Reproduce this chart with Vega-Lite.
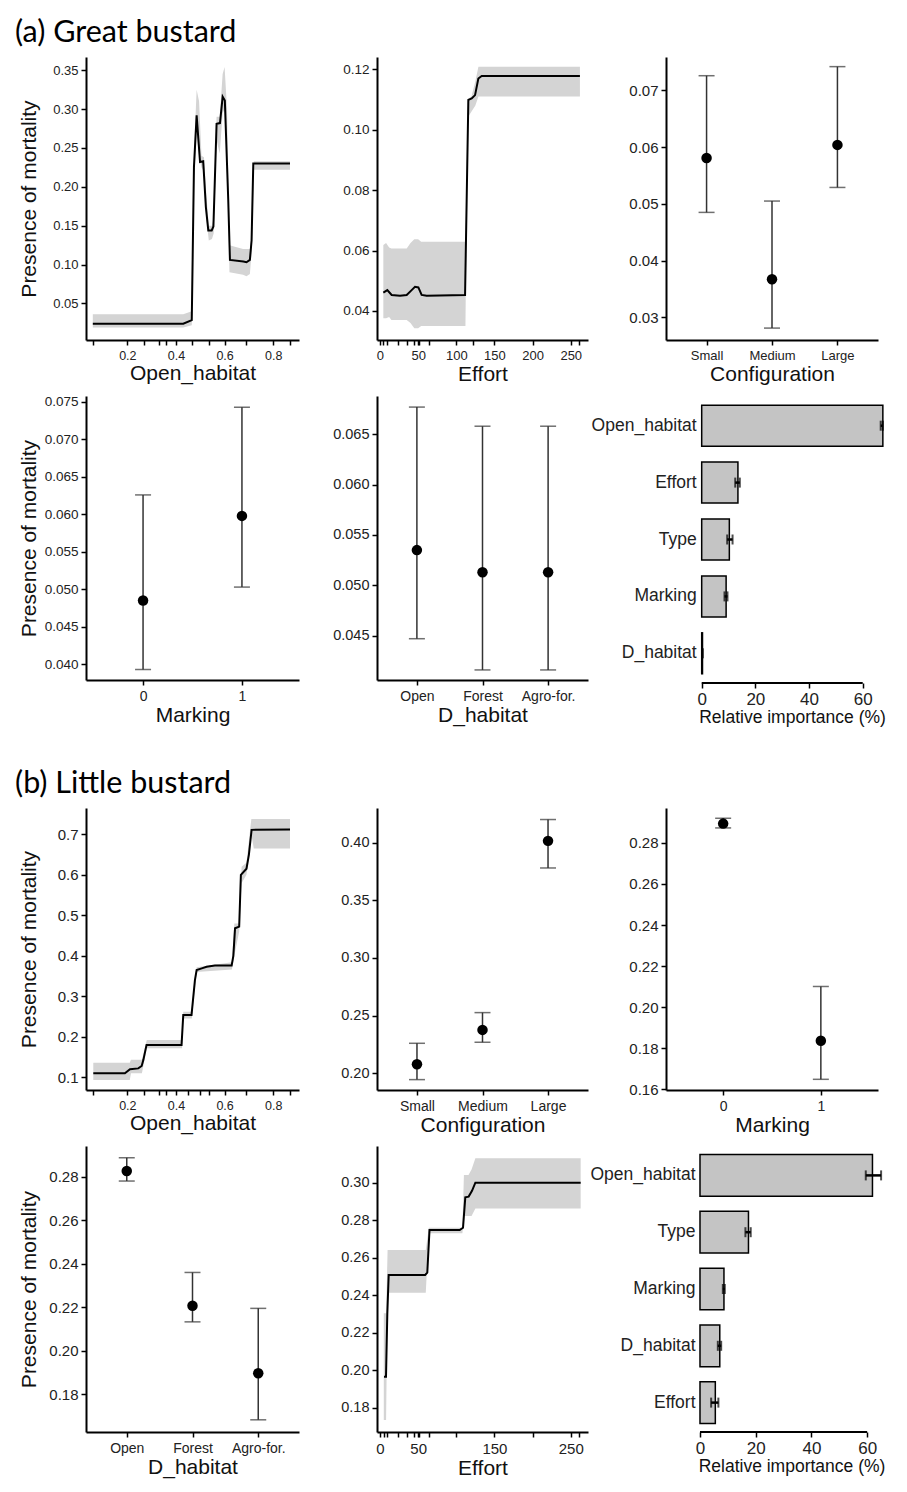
{
  "$schema": "https://vega.github.io/schema/vega-lite/v6.json",
  "background": "white",
  "padding": {"left": 15, "top": 17, "right": 10, "bottom": 5},
  "config": {
    "view": {"stroke": null},
    "font": "Liberation Sans",
    "title": {"font": "Lato", "fontSize": 30.5, "fontWeight": "normal", "color": "#000"},
    "axis": {"domainColor": "#000", "domainWidth": 2, "tickColor": "#000", "tickWidth": 1.5, "tickSize": 5, "labelFont": "Liberation Sans", "labelFontSize": 14, "labelColor": "#222", "labelPadding": 3, "titleFont": "Liberation Sans", "titleFontSize": 21, "titleFontWeight": "normal", "titleColor": "#111", "grid": false},
    "axisX": {"labelAngle": 0, "labelPadding": 4, "titlePadding": 1},
    "axisY": {"titlePadding": 3}
  },
  "datasets": {
    "a_open_line": [
      {"x": 0.058, "y": 0.024}, {"x": 0.43, "y": 0.024}, {"x": 0.465, "y": 0.0286}, {"x": 0.474, "y": 0.2257}, {"x": 0.485, "y": 0.292}, {"x": 0.499, "y": 0.232}, {"x": 0.512, "y": 0.233}, {"x": 0.523, "y": 0.174}, {"x": 0.533, "y": 0.144}, {"x": 0.547, "y": 0.144}, {"x": 0.554, "y": 0.149}, {"x": 0.567, "y": 0.281}, {"x": 0.581, "y": 0.282}, {"x": 0.592, "y": 0.316}, {"x": 0.601, "y": 0.311}, {"x": 0.615, "y": 0.183}, {"x": 0.622, "y": 0.106}, {"x": 0.677, "y": 0.104}, {"x": 0.69, "y": 0.103}, {"x": 0.704, "y": 0.106}, {"x": 0.711, "y": 0.131}, {"x": 0.718, "y": 0.23}, {"x": 0.869, "y": 0.23}
    ],
    "a_open_band": [
      {"x": 0.058, "lo": 0.019, "hi": 0.036}, {"x": 0.43, "lo": 0.019, "hi": 0.036}, {"x": 0.465, "lo": 0.022, "hi": 0.04}, {"x": 0.475, "lo": 0.21, "hi": 0.25}, {"x": 0.485, "lo": 0.27, "hi": 0.325}, {"x": 0.495, "lo": 0.24, "hi": 0.31}, {"x": 0.505, "lo": 0.225, "hi": 0.24}, {"x": 0.515, "lo": 0.22, "hi": 0.238}, {"x": 0.525, "lo": 0.16, "hi": 0.19}, {"x": 0.535, "lo": 0.131, "hi": 0.15}, {"x": 0.548, "lo": 0.133, "hi": 0.15}, {"x": 0.555, "lo": 0.14, "hi": 0.16}, {"x": 0.567, "lo": 0.26, "hi": 0.29}, {"x": 0.58, "lo": 0.243, "hi": 0.29}, {"x": 0.592, "lo": 0.295, "hi": 0.345}, {"x": 0.6, "lo": 0.3, "hi": 0.354}, {"x": 0.61, "lo": 0.26, "hi": 0.3}, {"x": 0.62, "lo": 0.09, "hi": 0.125}, {"x": 0.676, "lo": 0.087, "hi": 0.12}, {"x": 0.69, "lo": 0.085, "hi": 0.12}, {"x": 0.704, "lo": 0.088, "hi": 0.12}, {"x": 0.712, "lo": 0.12, "hi": 0.14}, {"x": 0.72, "lo": 0.222, "hi": 0.233}, {"x": 0.869, "lo": 0.222, "hi": 0.233}
    ],
    "a_eff_line": [
      {"x": 4.4, "y": 0.0461}, {"x": 9.6, "y": 0.0469}, {"x": 15.3, "y": 0.0453}, {"x": 26.2, "y": 0.045}, {"x": 35, "y": 0.0453}, {"x": 41.5, "y": 0.0469}, {"x": 45.9, "y": 0.048}, {"x": 50.3, "y": 0.0478}, {"x": 54.6, "y": 0.0453}, {"x": 61.2, "y": 0.045}, {"x": 111.5, "y": 0.0453}, {"x": 113.6, "y": 0.0767}, {"x": 115.8, "y": 0.1098}, {"x": 120.2, "y": 0.1103}, {"x": 124.6, "y": 0.1114}, {"x": 128.9, "y": 0.1169}, {"x": 133.3, "y": 0.1177}, {"x": 262, "y": 0.1177}
    ],
    "a_eff_band": [
      {"x": 4.4, "lo": 0.0376, "hi": 0.0618}, {"x": 8, "lo": 0.0376, "hi": 0.0625}, {"x": 12, "lo": 0.038, "hi": 0.061}, {"x": 15, "lo": 0.037, "hi": 0.0607}, {"x": 35, "lo": 0.037, "hi": 0.0607}, {"x": 40, "lo": 0.036, "hi": 0.0625}, {"x": 45, "lo": 0.0343, "hi": 0.0637}, {"x": 50, "lo": 0.0343, "hi": 0.0637}, {"x": 54, "lo": 0.035, "hi": 0.0629}, {"x": 112, "lo": 0.035, "hi": 0.0629}, {"x": 113, "lo": 0.06, "hi": 0.075}, {"x": 115, "lo": 0.104, "hi": 0.11}, {"x": 120, "lo": 0.106, "hi": 0.111}, {"x": 125, "lo": 0.108, "hi": 0.116}, {"x": 129, "lo": 0.1109, "hi": 0.1208}, {"x": 262, "lo": 0.1109, "hi": 0.1208}
    ],
    "a_conf": [
      {"cat": "Small", "y": 0.0581, "lo": 0.0485, "hi": 0.0726},
      {"cat": "Medium", "y": 0.0367, "lo": 0.0281, "hi": 0.0505},
      {"cat": "Large", "y": 0.0604, "lo": 0.0529, "hi": 0.0742}
    ],
    "a_mark": [
      {"cat": "0", "y": 0.0485, "lo": 0.0393, "hi": 0.0626},
      {"cat": "1", "y": 0.0598, "lo": 0.0503, "hi": 0.0743}
    ],
    "a_dhab": [
      {"cat": "Open", "y": 0.0535, "lo": 0.0447, "hi": 0.0677},
      {"cat": "Forest", "y": 0.0513, "lo": 0.0416, "hi": 0.0658},
      {"cat": "Agro-for.", "y": 0.0513, "lo": 0.0416, "hi": 0.0658}
    ],
    "a_imp": [
      {"var": "Open_habitat", "imp": 67.5, "lo": 66.7, "hi": 67.5},
      {"var": "Effort", "imp": 13.5, "lo": 12.5, "hi": 14.2},
      {"var": "Type", "imp": 10.3, "lo": 9.5, "hi": 11.5},
      {"var": "Marking", "imp": 9.1, "lo": 8.5, "hi": 9.6},
      {"var": "D_habitat", "imp": 0.3, "lo": 0.2, "hi": 0.4}
    ],
    "b_open_line": [
      {"x": 0.06, "y": 0.11}, {"x": 0.19, "y": 0.11}, {"x": 0.211, "y": 0.12}, {"x": 0.245, "y": 0.122}, {"x": 0.259, "y": 0.128}, {"x": 0.266, "y": 0.143}, {"x": 0.279, "y": 0.18}, {"x": 0.423, "y": 0.18}, {"x": 0.43, "y": 0.254}, {"x": 0.464, "y": 0.254}, {"x": 0.478, "y": 0.34}, {"x": 0.485, "y": 0.365}, {"x": 0.506, "y": 0.369}, {"x": 0.526, "y": 0.373}, {"x": 0.56, "y": 0.376}, {"x": 0.629, "y": 0.376}, {"x": 0.636, "y": 0.4}, {"x": 0.643, "y": 0.468}, {"x": 0.66, "y": 0.472}, {"x": 0.667, "y": 0.6}, {"x": 0.69, "y": 0.615}, {"x": 0.7, "y": 0.65}, {"x": 0.711, "y": 0.711}, {"x": 0.869, "y": 0.712}
    ],
    "b_open_band": [
      {"x": 0.06, "lo": 0.093, "hi": 0.136}, {"x": 0.21, "lo": 0.093, "hi": 0.136}, {"x": 0.215, "lo": 0.11, "hi": 0.143}, {"x": 0.26, "lo": 0.11, "hi": 0.143}, {"x": 0.28, "lo": 0.172, "hi": 0.192}, {"x": 0.425, "lo": 0.172, "hi": 0.192}, {"x": 0.43, "lo": 0.245, "hi": 0.262}, {"x": 0.465, "lo": 0.245, "hi": 0.262}, {"x": 0.485, "lo": 0.36, "hi": 0.372}, {"x": 0.63, "lo": 0.366, "hi": 0.384}, {"x": 0.64, "lo": 0.4, "hi": 0.48}, {"x": 0.66, "lo": 0.46, "hi": 0.48}, {"x": 0.67, "lo": 0.58, "hi": 0.62}, {"x": 0.69, "lo": 0.6, "hi": 0.63}, {"x": 0.71, "lo": 0.7, "hi": 0.738}, {"x": 0.72, "lo": 0.665, "hi": 0.738}, {"x": 0.869, "lo": 0.665, "hi": 0.738}
    ],
    "b_conf": [
      {"cat": "Small", "y": 0.2078, "lo": 0.1945, "hi": 0.226},
      {"cat": "Medium", "y": 0.2376, "lo": 0.2269, "hi": 0.2526},
      {"cat": "Large", "y": 0.4015, "lo": 0.378, "hi": 0.42}
    ],
    "b_mark": [
      {"cat": "0", "y": 0.2894, "lo": 0.2873, "hi": 0.292},
      {"cat": "1", "y": 0.1837, "lo": 0.1649, "hi": 0.2101}
    ],
    "b_dhab": [
      {"cat": "Open", "y": 0.2826, "lo": 0.278, "hi": 0.2887},
      {"cat": "Forest", "y": 0.2207, "lo": 0.2133, "hi": 0.236},
      {"cat": "Agro-for.", "y": 0.1897, "lo": 0.1683, "hi": 0.2195}
    ],
    "b_eff_line": [
      {"x": 5.3, "y": 0.1965}, {"x": 7.9, "y": 0.1965}, {"x": 9.6, "y": 0.23}, {"x": 11.4, "y": 0.2508}, {"x": 59.2, "y": 0.2508}, {"x": 62, "y": 0.252}, {"x": 64.9, "y": 0.2748}, {"x": 104.4, "y": 0.2748}, {"x": 108.8, "y": 0.276}, {"x": 111.8, "y": 0.2922}, {"x": 116.2, "y": 0.2926}, {"x": 120.6, "y": 0.2957}, {"x": 125, "y": 0.3}, {"x": 263, "y": 0.3}
    ],
    "b_eff_band": [
      {"x": 5, "lo": 0.1734, "hi": 0.2303}, {"x": 8, "lo": 0.1734, "hi": 0.2303}, {"x": 10, "lo": 0.2413, "hi": 0.2641}, {"x": 60, "lo": 0.2413, "hi": 0.2641}, {"x": 64, "lo": 0.273, "hi": 0.276}, {"x": 108, "lo": 0.273, "hi": 0.276}, {"x": 110, "lo": 0.2822, "hi": 0.3041}, {"x": 116, "lo": 0.2822, "hi": 0.3041}, {"x": 120, "lo": 0.2822, "hi": 0.307}, {"x": 125, "lo": 0.2863, "hi": 0.313}, {"x": 263, "lo": 0.2863, "hi": 0.313}
    ],
    "b_imp": [
      {"var": "Open_habitat", "imp": 61.9, "lo": 59.5, "hi": 65.0},
      {"var": "Type", "imp": 17.4, "lo": 16.3, "hi": 18.2},
      {"var": "Marking", "imp": 8.6, "lo": 8.2, "hi": 8.9},
      {"var": "D_habitat", "imp": 7.1, "lo": 6.4, "hi": 7.6},
      {"var": "Effort", "imp": 5.5, "lo": 4.0, "hi": 6.6}
    ],
    "axisline": [{"a": 0, "b": 60, "v": 0}]
  },
  "columns": 3,
  "bounds": "flush",
  "spacing": {"row": 56, "column": 78},
  "concat": [
    {
      "width": 213, "height": 283,
      "title": {"text": "(a) Great bustard", "anchor": "start", "frame": "group", "dx": -71, "offset": 9},
      "encoding": {"x": {"field": "x", "type": "quantitative", "title": "Open_habitat", "scale": {"domain": [0.03, 0.906], "nice": false, "zero": false}, "axis": {"values": [0.06, 0.2, 0.27, 0.33, 0.36, 0.4, 0.466, 0.535, 0.6, 0.69, 0.8, 0.87], "labelExpr": "abs(datum.value*5 - round(datum.value*5)) < 0.000001 ? format(datum.value, '.1f') : ''", "labelFontSize": 12.5}}},
      "layer": [
        {"data": {"name": "a_open_band"}, "mark": {"type": "area", "color": "#d4d4d4"}, "encoding": {"y": {"field": "lo", "type": "quantitative", "title": "Presence of mortality", "scale": {"domain": [0.003, 0.367], "nice": false, "zero": false}, "axis": {"values": [0.05, 0.1, 0.15, 0.2, 0.25, 0.3, 0.35], "format": ".2f", "minExtent": 44, "labelFontSize": 13}}, "y2": {"field": "hi"}}},
        {"data": {"name": "a_open_line"}, "mark": {"type": "line", "color": "#000", "strokeWidth": 2}, "encoding": {"y": {"field": "y", "type": "quantitative", "title": "Presence of mortality"}}}
      ]
    },
    {
      "width": 211, "height": 283,
      "encoding": {"x": {"field": "x", "type": "quantitative", "title": "Effort", "scale": {"domain": [-3.9, 272.6], "nice": false, "zero": false}, "axis": {"values": [0, 4.4, 9.6, 23, 35, 44.6, 50, 51.6, 64.7, 100, 122, 150, 200, 250, 261], "labelExpr": "datum.value % 50 == 0 ? format(datum.value, 'd') : ''", "labelFontSize": 13}}},
      "layer": [
        {"data": {"name": "a_eff_band"}, "mark": {"type": "area", "color": "#d4d4d4"}, "encoding": {"y": {"field": "lo", "type": "quantitative", "title": null, "scale": {"domain": [0.0304, 0.124], "nice": false, "zero": false}, "axis": {"values": [0.04, 0.06, 0.08, 0.1, 0.12], "format": ".2f", "labelFontSize": 13.5}}, "y2": {"field": "hi"}}},
        {"data": {"name": "a_eff_line"}, "mark": {"type": "line", "color": "#000", "strokeWidth": 2}, "encoding": {"y": {"field": "y", "type": "quantitative", "title": null}}}
      ]
    },
    {
      "width": 212, "height": 283,
      "data": {"name": "a_conf"},
      "encoding": {"x": {"field": "cat", "type": "nominal", "sort": null, "title": "Configuration", "scale": {"type": "point", "padding": 0.62}, "axis": {"labelFontSize": 13}}},
      "layer": [
        {"mark": {"type": "rule", "color": "#333", "strokeWidth": 1.5}, "encoding": {"y": {"field": "lo", "type": "quantitative", "title": null, "scale": {"domain": [0.026, 0.0759], "nice": false, "zero": false}, "axis": {"values": [0.03, 0.04, 0.05, 0.06, 0.07], "format": ".2f", "labelFontSize": 15}}, "y2": {"field": "hi"}}},
        {"mark": {"type": "tick", "color": "#333", "thickness": 1.5, "size": 16}, "encoding": {"y": {"field": "lo", "type": "quantitative", "title": null}}},
        {"mark": {"type": "tick", "color": "#333", "thickness": 1.5, "size": 16}, "encoding": {"y": {"field": "hi", "type": "quantitative", "title": null}}},
        {"mark": {"type": "point", "filled": true, "color": "#000", "opacity": 1, "size": 110}, "encoding": {"y": {"field": "y", "type": "quantitative", "title": null}}}
      ]
    },
    {
      "width": 213, "height": 284,
      "data": {"name": "a_mark"},
      "encoding": {"x": {"field": "cat", "type": "nominal", "sort": null, "title": "Marking", "scale": {"type": "point", "padding": 0.577}, "axis": {"labelFontSize": 14}}},
      "layer": [
        {"mark": {"type": "rule", "color": "#333", "strokeWidth": 1.5}, "encoding": {"y": {"field": "lo", "type": "quantitative", "title": "Presence of mortality", "scale": {"domain": [0.0379, 0.0758], "nice": false, "zero": false}, "axis": {"values": [0.04, 0.045, 0.05, 0.055, 0.06, 0.065, 0.07, 0.075], "format": ".3f", "minExtent": 44, "labelFontSize": 13.5}}, "y2": {"field": "hi"}}},
        {"mark": {"type": "tick", "color": "#333", "thickness": 1.5, "size": 16}, "encoding": {"y": {"field": "lo", "type": "quantitative", "title": "Presence of mortality"}}},
        {"mark": {"type": "tick", "color": "#333", "thickness": 1.5, "size": 16}, "encoding": {"y": {"field": "hi", "type": "quantitative", "title": "Presence of mortality"}}},
        {"mark": {"type": "point", "filled": true, "color": "#000", "opacity": 1, "size": 110}, "encoding": {"y": {"field": "y", "type": "quantitative", "title": "Presence of mortality"}}}
      ]
    },
    {
      "width": 211, "height": 284,
      "data": {"name": "a_dhab"},
      "encoding": {"x": {"field": "cat", "type": "nominal", "sort": null, "title": "D_habitat", "scale": {"type": "point", "padding": 0.608}, "axis": {"labelFontSize": 14}}},
      "layer": [
        {"mark": {"type": "rule", "color": "#333", "strokeWidth": 1.5}, "encoding": {"y": {"field": "lo", "type": "quantitative", "title": null, "scale": {"domain": [0.0406, 0.0688], "nice": false, "zero": false}, "axis": {"values": [0.045, 0.05, 0.055, 0.06, 0.065], "format": ".3f", "labelFontSize": 14.5}}, "y2": {"field": "hi"}}},
        {"mark": {"type": "tick", "color": "#333", "thickness": 1.5, "size": 16}, "encoding": {"y": {"field": "lo", "type": "quantitative", "title": null}}},
        {"mark": {"type": "tick", "color": "#333", "thickness": 1.5, "size": 16}, "encoding": {"y": {"field": "hi", "type": "quantitative", "title": null}}},
        {"mark": {"type": "point", "filled": true, "color": "#000", "opacity": 1, "size": 110}, "encoding": {"y": {"field": "y", "type": "quantitative", "title": null}}}
      ]
    },
    {
      "width": 219, "height": 287,
      "layer": [
        {
          "data": {"name": "a_imp"},
          "encoding": {
            "y": {"field": "var", "type": "nominal", "sort": null, "title": null, "scale": {"paddingInner": 0.28, "paddingOuter": 0.162}, "axis": {"domain": false, "ticks": false, "offset": -35.7, "labelPadding": 5.5, "labelFontSize": 17.5, "labelColor": "#222"}}
          },
          "layer": [
            {"mark": {"type": "bar", "fill": "#c4c4c4", "stroke": "#000", "strokeWidth": 1.5},
             "encoding": {
               "x": {"field": "imp", "type": "quantitative", "title": "Relative importance (%)", "scale": {"domain": [-13.3, 68.3], "nice": false, "zero": false}, "axis": {"values": [0, 10, 20, 30, 40, 50, 60], "labelExpr": "datum.value % 20 == 0 ? format(datum.value, 'd') : ''", "domain": false, "labelFontSize": 17, "titleFontSize": 17.5, "titlePadding": 1, "labelPadding": 3, "titleX": 126, "titleAlign": "center"}},
               "x2": {"datum": 0}
             }},
            {"mark": {"type": "rule", "color": "#000", "strokeWidth": 2.5}, "encoding": {"x": {"field": "lo", "type": "quantitative"}, "x2": {"field": "hi"}}},
            {"mark": {"type": "tick", "color": "#000", "thickness": 2, "size": 10}, "encoding": {"x": {"field": "lo", "type": "quantitative"}}},
            {"mark": {"type": "tick", "color": "#000", "thickness": 2, "size": 10}, "encoding": {"x": {"field": "hi", "type": "quantitative"}}}
          ]
        },
        {"data": {"name": "axisline"}, "mark": {"type": "rule", "color": "#000", "strokeWidth": 2}, "encoding": {"x": {"field": "a", "type": "quantitative"}, "x2": {"field": "b"}, "y": {"field": "v", "type": "quantitative", "scale": {"domain": [0, 1]}, "axis": null}}}
      ],
      "resolve": {"scale": {"y": "independent"}, "axis": {"y": "independent"}}
    },
    {"width": 10, "height": 13, "data": {"values": []}, "mark": "point"},
    {"width": 10, "height": 13, "data": {"values": []}, "mark": "point"},
    {"width": 10, "height": 13, "data": {"values": []}, "mark": "point"},
    {
      "width": 213, "height": 282,
      "title": {"text": "(b) Little bustard", "anchor": "start", "frame": "group", "dx": -71, "offset": 9},
      "encoding": {"x": {"field": "x", "type": "quantitative", "title": "Open_habitat", "scale": {"domain": [0.03, 0.906], "nice": false, "zero": false}, "axis": {"values": [0.06, 0.2, 0.27, 0.33, 0.36, 0.4, 0.45, 0.5, 0.535, 0.6, 0.69, 0.8, 0.87], "labelExpr": "abs(datum.value*5 - round(datum.value*5)) < 0.000001 ? format(datum.value, '.1f') : ''", "labelFontSize": 12.5}}},
      "layer": [
        {"data": {"name": "b_open_band"}, "mark": {"type": "area", "color": "#d4d4d4"}, "encoding": {"y": {"field": "lo", "type": "quantitative", "title": "Presence of mortality", "scale": {"domain": [0.0686, 0.765], "nice": false, "zero": false}, "axis": {"values": [0.1, 0.2, 0.3, 0.4, 0.5, 0.6, 0.7], "format": ".1f", "minExtent": 44, "labelFontSize": 15}}, "y2": {"field": "hi"}}},
        {"data": {"name": "b_open_line"}, "mark": {"type": "line", "color": "#000", "strokeWidth": 2}, "encoding": {"y": {"field": "y", "type": "quantitative", "title": "Presence of mortality"}}}
      ]
    },
    {
      "width": 211, "height": 282,
      "data": {"name": "b_conf"},
      "encoding": {"x": {"field": "cat", "type": "nominal", "sort": null, "title": "Configuration", "scale": {"type": "point", "padding": 0.61}, "axis": {"labelFontSize": 14}}},
      "layer": [
        {"mark": {"type": "rule", "color": "#333", "strokeWidth": 1.5}, "encoding": {"y": {"field": "lo", "type": "quantitative", "title": null, "scale": {"domain": [0.1855, 0.43], "nice": false, "zero": false}, "axis": {"values": [0.2, 0.25, 0.3, 0.35, 0.4], "format": ".2f", "labelFontSize": 14.5}}, "y2": {"field": "hi"}}},
        {"mark": {"type": "tick", "color": "#333", "thickness": 1.5, "size": 16}, "encoding": {"y": {"field": "lo", "type": "quantitative", "title": null}}},
        {"mark": {"type": "tick", "color": "#333", "thickness": 1.5, "size": 16}, "encoding": {"y": {"field": "hi", "type": "quantitative", "title": null}}},
        {"mark": {"type": "point", "filled": true, "color": "#000", "opacity": 1, "size": 110}, "encoding": {"y": {"field": "y", "type": "quantitative", "title": null}}}
      ]
    },
    {
      "width": 212, "height": 282,
      "data": {"name": "b_mark"},
      "encoding": {"x": {"field": "cat", "type": "nominal", "sort": null, "title": "Marking", "scale": {"type": "point", "padding": 0.585}, "axis": {"labelFontSize": 14}}},
      "layer": [
        {"mark": {"type": "rule", "color": "#333", "strokeWidth": 1.5}, "encoding": {"y": {"field": "lo", "type": "quantitative", "title": null, "scale": {"domain": [0.1597, 0.297], "nice": false, "zero": false}, "axis": {"values": [0.16, 0.18, 0.2, 0.22, 0.24, 0.26, 0.28], "format": ".2f", "labelFontSize": 15}}, "y2": {"field": "hi"}}},
        {"mark": {"type": "tick", "color": "#333", "thickness": 1.5, "size": 16}, "encoding": {"y": {"field": "lo", "type": "quantitative", "title": null}}},
        {"mark": {"type": "tick", "color": "#333", "thickness": 1.5, "size": 16}, "encoding": {"y": {"field": "hi", "type": "quantitative", "title": null}}},
        {"mark": {"type": "point", "filled": true, "color": "#000", "opacity": 1, "size": 110}, "encoding": {"y": {"field": "y", "type": "quantitative", "title": null}}}
      ]
    },
    {
      "width": 213, "height": 286,
      "data": {"name": "b_dhab"},
      "encoding": {"x": {"field": "cat", "type": "nominal", "sort": null, "title": "D_habitat", "scale": {"type": "point", "padding": 0.62}, "axis": {"labelFontSize": 14}}},
      "layer": [
        {"mark": {"type": "rule", "color": "#333", "strokeWidth": 1.5}, "encoding": {"y": {"field": "lo", "type": "quantitative", "title": "Presence of mortality", "scale": {"domain": [0.1627, 0.2941], "nice": false, "zero": false}, "axis": {"values": [0.18, 0.2, 0.22, 0.24, 0.26, 0.28], "format": ".2f", "minExtent": 44, "labelFontSize": 15}}, "y2": {"field": "hi"}}},
        {"mark": {"type": "tick", "color": "#333", "thickness": 1.5, "size": 16}, "encoding": {"y": {"field": "lo", "type": "quantitative", "title": "Presence of mortality"}}},
        {"mark": {"type": "tick", "color": "#333", "thickness": 1.5, "size": 16}, "encoding": {"y": {"field": "hi", "type": "quantitative", "title": "Presence of mortality"}}},
        {"mark": {"type": "point", "filled": true, "color": "#000", "opacity": 1, "size": 110}, "encoding": {"y": {"field": "y", "type": "quantitative", "title": "Presence of mortality"}}}
      ]
    },
    {
      "width": 211, "height": 286,
      "encoding": {"x": {"field": "x", "type": "quantitative", "title": "Effort", "scale": {"domain": [-3.9, 272.6], "nice": false, "zero": false}, "axis": {"values": [0, 5.3, 9.6, 23, 35, 44.6, 50, 51.6, 64.7, 100, 150, 200, 250, 261], "labelExpr": "(datum.value == 0 || datum.value == 50 || datum.value == 150 || datum.value == 250) ? format(datum.value, 'd') : ''", "labelFontSize": 15}}},
      "layer": [
        {"data": {"name": "b_eff_band"}, "mark": {"type": "area", "color": "#d4d4d4"}, "encoding": {"y": {"field": "lo", "type": "quantitative", "title": null, "scale": {"domain": [0.167, 0.3196], "nice": false, "zero": false}, "axis": {"values": [0.18, 0.2, 0.22, 0.24, 0.26, 0.28, 0.3], "format": ".2f", "labelFontSize": 14.5}}, "y2": {"field": "hi"}}},
        {"data": {"name": "b_eff_line"}, "mark": {"type": "line", "color": "#000", "strokeWidth": 2}, "encoding": {"y": {"field": "y", "type": "quantitative", "title": null}}}
      ]
    },
    {
      "width": 219, "height": 286,
      "layer": [
        {
          "data": {"name": "b_imp"},
          "encoding": {
            "y": {"field": "var", "type": "nominal", "sort": null, "title": null, "scale": {"paddingInner": 0.265, "paddingOuter": 0.15}, "axis": {"domain": false, "ticks": false, "offset": -34, "labelPadding": 5, "labelFontSize": 17.5, "labelColor": "#222"}}
          },
          "layer": [
            {"mark": {"type": "bar", "fill": "#c4c4c4", "stroke": "#000", "strokeWidth": 1.5},
             "encoding": {
               "x": {"field": "imp", "type": "quantitative", "title": "Relative importance (%)", "scale": {"domain": [-12.2, 66.4], "nice": false, "zero": false}, "axis": {"values": [0, 10, 20, 30, 40, 50, 60], "labelExpr": "datum.value % 20 == 0 ? format(datum.value, 'd') : ''", "domain": false, "labelFontSize": 17, "titleFontSize": 17.5, "titlePadding": 1, "labelPadding": 3, "titleX": 125.5, "titleAlign": "center"}},
               "x2": {"datum": 0}
             }},
            {"mark": {"type": "rule", "color": "#000", "strokeWidth": 2.5}, "encoding": {"x": {"field": "lo", "type": "quantitative"}, "x2": {"field": "hi"}}},
            {"mark": {"type": "tick", "color": "#000", "thickness": 2, "size": 10}, "encoding": {"x": {"field": "lo", "type": "quantitative"}}},
            {"mark": {"type": "tick", "color": "#000", "thickness": 2, "size": 10}, "encoding": {"x": {"field": "hi", "type": "quantitative"}}}
          ]
        },
        {"data": {"name": "axisline"}, "mark": {"type": "rule", "color": "#000", "strokeWidth": 2}, "encoding": {"x": {"field": "a", "type": "quantitative"}, "x2": {"field": "b"}, "y": {"field": "v", "type": "quantitative", "scale": {"domain": [0, 1]}, "axis": null}}}
      ],
      "resolve": {"scale": {"y": "independent"}, "axis": {"y": "independent"}}
    }
  ]
}
